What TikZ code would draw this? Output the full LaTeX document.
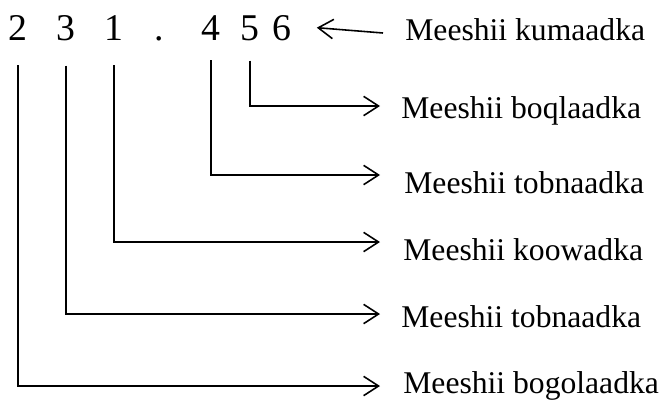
\documentclass[tikz,border=0pt]{standalone}
\usepackage{fontspec}
\setmainfont{Liberation Serif}
\usetikzlibrary{arrows.meta}

\begin{document}
\begin{tikzpicture}[
x = 0.02cm, y = -0.02cm,
every node/.style = {inner sep=0pt, font=\fontsize{18}{21}\selectfont},
digit/.style = {anchor=base, font=\fontsize{21.5}{24}\selectfont},
lbl/.style   = {anchor=base west},
conn/.style  = {line width=0.9pt, -{Straight Barb[length=8.5pt, width=11pt, line width=0.9pt]}},
                    ]
\useasboundingbox (0,0) rectangle (662,399);
% the number
\node[digit] (d2)  at (18,40)  {2};
\node[digit] (d3)  at (66,40)  {3};
\node[digit] (d1)  at (114,40) {1};
\node[digit] (dot) at (159,40) {.};
\node[digit] (d4)  at (211,40) {4};
\node[digit] (d5)  at (250,40) {5};
\node[digit] (d6)  at (282,40) {6};
% place names
\node[lbl] (kum)  at (405,40)  {Meeshii kumaadka};
\node[lbl] (boq)  at (401,118) {Meeshii boqlaadka};
\node[lbl] (tob1) at (404,193) {Meeshii tobnaadka};
\node[lbl] (koo)  at (403,260) {Meeshii koowadka};
\node[lbl] (tob2) at (401,327) {Meeshii tobnaadka};
\node[lbl] (bog)  at (403,393) {Meeshii bogolaadka};
%
\draw[conn] ([xshift=-0.44cm, yshift=0.14cm] kum.base west) -- ([xshift=0.5cm] d6.east);
\draw[conn] ([yshift=-0.4cm] d5.south) |- ([xshift=-0.42cm, yshift=0.24cm] boq.base west);
\draw[conn] ([yshift=-0.4cm] d4.south) |- ([xshift=-0.48cm, yshift=0.36cm] tob1.base west);
\draw[conn] ([yshift=-0.5cm] d1.south) |- ([xshift=-0.46cm, yshift=0.36cm] koo.base west);
\draw[conn] ([yshift=-0.5cm] d3.south) |- ([xshift=-0.42cm, yshift=0.26cm] tob2.base west);
\draw[conn] ([yshift=-0.5cm] d2.south) |- ([xshift=-0.46cm, yshift=0.14cm] bog.base west);
%
\end{tikzpicture}
\end{document}
